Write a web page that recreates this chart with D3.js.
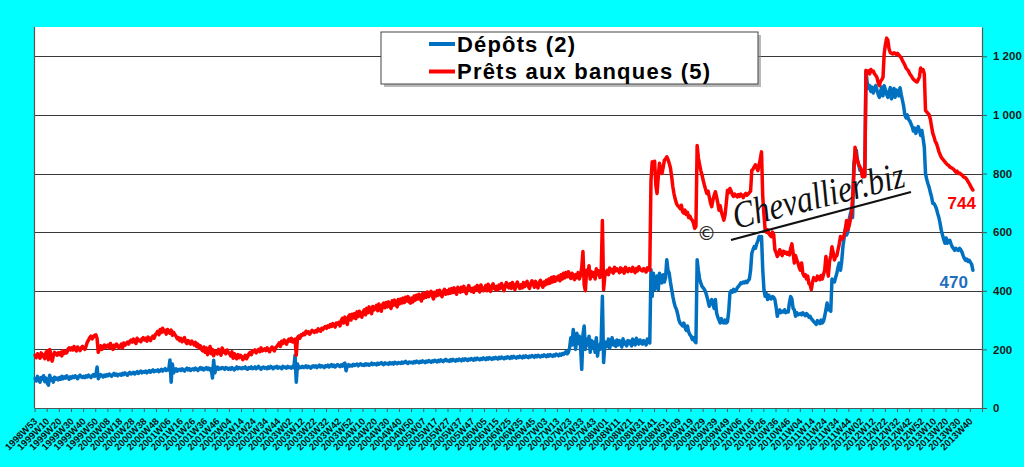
<!DOCTYPE html>
<html><head><meta charset="utf-8">
<script src="https://cdn.jsdelivr.net/npm/d3@7"></script>
<style>html,body{margin:0;padding:0;background:#00FFFF;overflow:hidden}</style>
</head><body><svg id="c" width="1024" height="467"></svg>
<script>
const tickLabels = ["1998W53","1999W10","1999W20","1999W30","1999W40","1999W50","2000W08","2000W18","2000W28","2000W38","2000W48","2001W06","2001W16","2001W26","2001W36","2001W46","2002W04","2002W14","2002W24","2002W34","2002W44","2003W02","2003W12","2003W22","2003W32","2003W42","2003W52","2004W10","2004W20","2004W30","2004W40","2004W50","2005W07","2005W17","2005W27","2005W37","2005W47","2006W05","2006W15","2006W25","2006W35","2006W45","2007W03","2007W13","2007W23","2007W33","2007W43","2008W01","2008W11","2008W21","2008W31","2008W41","2008W51","2009W09","2009W19","2009W29","2009W39","2009W49","2010W06","2010W16","2010W26","2010W36","2010W46","2011W04","2011W14","2011W24","2011W34","2011W44","2012W02","2012W12","2012W22","2012W32","2012W42","2012W52","2013W10","2013W20","2013W30","2013W40"];
const seriesNames = ["Dépôts (2)", "Prêts aux banques (5)"];
const seriesColors = ["#0070C0", "#FF0000"];
const yTicks = [0,200,400,600,800,1000,1200];
const nCategories = 780;

// Dépôts (2), weekly from 1998W53
const depots = [
100,92,108,95,88,104,98,110,90,102,
85,78,112,95,100,88,105,98,102,96,
104,98,108,100,106,102,110,104,98,106,
102,108,104,110,106,100,108,112,106,104,
108,104,110,106,112,108,104,110,114,108,
112,140,100,108,114,110,106,112,108,114,
110,116,112,108,114,118,112,116,110,114,
116,112,118,114,120,116,112,118,122,116,
118,122,116,120,124,118,122,126,120,124,
122,126,120,124,128,122,126,130,124,128,
126,130,124,128,132,126,130,134,128,132,
130,164,88,150,120,128,134,126,130,132,
128,134,130,126,132,136,130,134,128,132,
134,130,136,132,128,134,138,132,136,130,
134,138,132,136,130,134,102,163,120,138,
140,132,136,134,138,136,132,138,136,132,
136,132,138,134,130,136,140,134,138,136,
134,138,136,140,134,132,138,136,140,134,
136,140,134,138,142,136,132,138,140,136,
138,134,140,136,142,138,134,140,138,142,
136,140,138,134,142,138,140,136,142,138,
140,136,142,138,180,88,150,136,140,138,
142,138,140,144,138,142,140,136,142,144,
140,144,138,142,146,140,144,142,138,144,
142,146,140,144,148,142,146,140,144,148,
144,141,147,143,150,153,127,145,148,143,
146,143,149,145,147,150,144,148,151,146,
148,145,151,147,150,146,149,153,148,151,
150,147,153,149,152,155,150,148,154,151,
152,149,155,151,154,150,156,153,151,155,
154,152,157,153,156,159,154,152,157,155,
156,153,158,155,160,157,154,159,156,161,
158,155,160,157,162,159,156,161,158,163,
160,157,163,159,164,161,158,163,166,161,
162,159,165,161,166,163,160,165,162,167,
164,161,167,163,168,165,162,167,164,169,
166,163,169,165,170,167,164,169,166,171,
168,165,171,167,172,169,166,171,168,173,
170,167,173,169,174,171,168,173,170,175,
172,169,175,171,176,173,170,175,172,177,
174,171,177,173,178,175,172,177,174,179,
176,173,179,175,180,177,174,179,176,181,
178,175,181,177,182,179,176,181,178,184,
181,178,184,180,186,183,188,192,185,190,
205,240,215,268,230,200,255,220,245,210,
132,250,280,200,235,215,245,190,230,205,
225,190,240,177,215,200,230,381,155,215,
225,210,235,205,220,240,215,228,210,232,
215,230,222,208,236,218,225,212,230,220,
228,212,235,220,215,238,225,218,232,222,
218,230,225,215,235,228,222,472,381,460,
404,430,450,404,460,440,427,455,430,445,
506,470,460,430,405,381,360,345,336,320,
300,290,285,280,290,275,265,280,260,250,
245,234,240,228,223,506,470,440,427,415,
410,404,395,381,365,347,360,370,355,340,
370,325,310,300,290,305,292,290,300,290,
295,330,392,400,395,405,398,400,410,415,
420,427,425,430,427,432,428,435,440,470,
528,540,551,545,560,570,585,575,585,472,
404,381,390,370,385,375,372,380,378,370,
345,313,330,335,325,330,328,335,325,330,
328,360,380,372,340,335,313,325,318,320,
322,318,325,320,315,322,318,310,313,305,
300,295,290,285,298,292,288,300,290,296,
313,335,358,335,340,330,440,435,430,445,
460,480,495,470,500,550,580,610,590,600,
640,660,675,650,834,860,880,845,830,811,
811,800,789,795,1150,1110,1090,1100,1080,1095,
1075,1090,1100,1085,1070,1060,1080,1095,1065,1100,
1085,1070,1060,1080,1093,1055,1075,1090,1060,1085,
1080,1065,1093,1070,1050,1030,1000,990,1000,985,
980,970,960,945,955,937,950,960,947,930,
947,920,890,800,780,765,753,735,720,698,
698,690,680,664,650,630,606,590,575,562,
580,562,570,572,560,550,545,538,545,540,
538,545,540,532,520,510,504,508,500,504,
497,490,470];

// Prêts aux banques (5), weekly from 1998W53
const prets = [
180,172,185,178,170,188,176,182,168,190,
195,165,200,182,160,178,190,185,180,188,
182,190,178,195,186,192,188,200,205,198,
205,198,210,200,195,208,202,196,205,210,
206,200,212,225,232,240,245,236,242,248,
250,238,190,205,212,200,208,215,206,210,
215,205,220,210,200,214,208,218,212,205,
210,218,205,222,214,220,225,218,228,232,
225,235,228,220,238,230,232,226,236,240,
232,238,228,242,236,230,240,245,238,250,
255,262,250,268,258,272,260,265,252,268,
262,255,266,248,258,250,245,236,240,230,
238,226,232,240,225,220,230,222,218,228,
222,215,224,210,218,205,212,200,195,208,
190,205,182,198,210,185,200,178,195,190,
185,200,192,180,205,190,196,185,198,190,
186,178,192,170,185,175,168,182,172,180,
176,165,172,180,168,175,185,190,182,195,
192,198,188,196,200,192,205,195,198,202,
196,205,198,192,202,208,200,195,206,210,
215,222,210,228,220,232,226,218,230,235,
228,238,225,232,235,180,240,245,238,250,
248,255,250,262,256,260,252,258,265,262,
258,264,260,270,266,262,272,268,275,278,
272,280,276,285,278,288,282,276,290,286,
292,280,298,306,290,310,296,285,312,318,
300,320,308,322,305,328,312,330,318,310,
328,335,318,340,325,345,330,322,346,335,
340,350,332,355,340,330,352,358,342,360,
345,362,348,340,366,350,368,355,345,370,
355,372,358,375,360,378,365,380,362,358,
375,362,382,368,385,372,388,375,365,390,
375,392,378,396,380,390,398,382,372,395,
382,400,385,402,388,380,398,405,388,400,
390,405,392,408,394,410,398,388,412,400,
395,412,398,415,400,390,408,418,404,398,
408,395,412,402,418,404,396,420,410,400,
405,418,400,422,410,398,416,424,408,404,
415,402,420,408,425,412,400,418,428,414,
410,424,408,428,414,404,422,430,415,408,
420,410,428,414,424,432,416,408,424,434,
425,412,432,418,410,428,436,420,412,430,
420,436,424,440,426,445,430,448,432,446,
438,450,434,455,440,460,444,462,448,465,
450,442,460,448,438,455,445,462,440,452,
480,534,420,400,470,455,485,440,465,450,
462,440,475,455,468,445,460,640,404,450,
462,470,455,478,465,472,460,480,468,475,
470,462,478,466,474,460,480,472,465,476,
472,466,480,470,462,476,468,482,474,470,
468,476,470,464,478,472,470,777,840,828,
842,760,732,790,835,815,800,820,845,850,
857,848,835,820,790,755,730,712,698,690,
687,680,692,670,665,675,660,668,650,655,
645,641,630,613,620,896,855,830,811,795,
777,760,745,732,740,720,700,687,710,725,
738,720,700,675,690,668,655,641,660,700,
743,735,749,740,728,722,730,725,720,728,
722,730,725,718,728,732,726,730,735,740,
811,815,823,830,820,810,830,850,874,721,
660,608,600,608,595,590,585,600,592,540,
530,517,525,540,530,520,535,528,532,525,
530,522,545,560,530,495,520,505,495,480,
470,495,460,450,455,440,450,425,420,404,
430,445,440,435,450,445,438,452,440,455,
470,517,480,450,500,520,550,530,505,517,
520,540,560,585,575,580,590,610,640,608,
620,640,660,720,800,890,860,845,830,823,
815,789,795,790,1152,1145,1150,1140,1155,1148,
1150,1140,1135,1128,1110,1100,1115,1120,1128,1210,
1240,1262,1255,1225,1213,1210,1208,1212,1210,1206,
1210,1205,1200,1195,1185,1178,1170,1160,1155,1150,
1140,1135,1128,1122,1118,1115,1112,1120,1130,1160,
1150,1155,1140,1015,1010,1005,1000,985,960,937,
925,910,903,890,875,865,855,850,845,840,
835,830,828,822,820,818,815,810,805,808,
800,802,798,795,790,787,785,780,772,766,
758,750,744];

const W = 1024, H = 467;
const plot = {left: 34.5, right: 982, top: 27, bottom: 408};
const svg = d3.select("#c");
const x = d3.scaleLinear().domain([0, nCategories]).range([plot.left, plot.right]);
const y = d3.scaleLinear().domain([0, 1300]).range([plot.bottom, plot.top]);
const frLocale = d3.formatLocale({decimal: ",", thousands: "\u00a0", grouping: [3], currency: ["", " €"]});
const fmt = frLocale.format(",d");
const FONT = "'Liberation Sans', Arial, sans-serif";

svg.append("rect").attr("width", W).attr("height", H).attr("fill", "#00FFFF");
svg.append("rect").attr("x", plot.left).attr("y", plot.top)
  .attr("width", plot.right - plot.left).attr("height", plot.bottom - plot.top).attr("fill", "#fff");

// gridlines
svg.append("g").selectAll("line").data(yTicks.filter(v => v > 0)).join("line")
  .attr("x1", plot.left).attr("x2", plot.right)
  .attr("y1", d => Math.round(y(d)) + 0.5).attr("y2", d => Math.round(y(d)) + 0.5)
  .attr("stroke", "#3a3a3a").attr("stroke-width", 1);

// left border line
svg.append("line").attr("x1", plot.left).attr("x2", plot.left).attr("y1", plot.top).attr("y2", plot.bottom)
  .attr("stroke", "#555").attr("stroke-width", 1.2);

// right y axis
const yAxis = svg.append("g").attr("transform", `translate(${plot.right},0)`)
  .call(d3.axisRight(y).tickValues(yTicks).tickFormat(fmt).tickSize(5).tickSizeOuter(0).tickPadding(6));
yAxis.select(".domain").attr("stroke", "#555").attr("stroke-width", 1.2);
yAxis.selectAll(".tick line").attr("stroke", "#555");
yAxis.selectAll("text").attr("font-family", FONT).attr("font-size", 11.5).attr("font-weight", "bold").attr("fill", "#1a1a1a");

// bottom x axis
const xAxis = svg.append("g").attr("transform", `translate(0,${plot.bottom})`)
  .call(d3.axisBottom(x).tickValues(d3.range(0, nCategories + 1, 10))
    .tickFormat((d, i) => tickLabels[i] || "").tickSize(4).tickSizeOuter(0));
xAxis.select(".domain").attr("stroke", "#555").attr("stroke-width", 1.2);
xAxis.selectAll(".tick line").attr("stroke", "#555");
xAxis.selectAll("text").attr("font-family", FONT).attr("font-size", 9.6).attr("font-weight", "bold").attr("fill", "#111")
  .attr("x", 0).attr("y", 0).attr("dy", 0).attr("text-anchor", "end")
  .attr("transform", "translate(3,14) rotate(-45)");

// lines
const line = d3.line().x((d, i) => x(i + 0.5)).y(d => y(d));
[depots, prets].forEach((s, si) => {
  svg.append("path").datum(s).attr("d", line).attr("fill", "none")
    .attr("stroke", seriesColors[si]).attr("stroke-width", 3.5)
    .attr("stroke-linejoin", "round").attr("stroke-linecap", "round");
});

// end labels
const lastI = prets.length - 1;
svg.append("text").attr("x", x(lastI + 0.5) + 3).attr("y", y(prets[lastI]) + 19)
  .attr("text-anchor", "end").attr("font-family", FONT).attr("font-size", 17).attr("font-weight", "bold")
  .attr("fill", seriesColors[1]).text(prets[lastI]);
svg.append("text").attr("x", x(lastI + 0.5) - 5).attr("y", y(depots[lastI]) + 18)
  .attr("text-anchor", "end").attr("font-family", FONT).attr("font-size", 17).attr("font-weight", "bold")
  .attr("fill", "#1F6FC0").text(depots[lastI]);

// watermark
const wm = svg.append("g");
wm.append("text").attr("x", 697).attr("y", 240).attr("font-family", "'DejaVu Sans', sans-serif")
  .attr("font-size", 19).attr("fill", "#222").text("©");
wm.append("text").attr("transform", "translate(736,229) rotate(-14)")
  .attr("font-family", "'Liberation Serif', 'DejaVu Serif', serif").attr("font-style", "italic")
  .attr("font-size", 38).attr("fill", "#111").attr("textLength", 176).attr("lengthAdjust", "spacingAndGlyphs")
  .text("Chevallier.biz");
wm.append("line").attr("x1", 731).attr("y1", 240).attr("x2", 911).attr("y2", 192)
  .attr("stroke", "#111").attr("stroke-width", 2.2);

// legend
const lg = {x: 381, y: 32, w: 377, h: 52};
svg.append("rect").attr("x", lg.x + 3).attr("y", lg.y + 3).attr("width", lg.w).attr("height", lg.h).attr("fill", "#8a8a8a").attr("opacity", 0.6);
svg.append("rect").attr("x", lg.x).attr("y", lg.y).attr("width", lg.w).attr("height", lg.h)
  .attr("fill", "#fff").attr("stroke", "#444").attr("stroke-width", 1);
const legendRows = [{y: 44, base: 52, len: 118}, {y: 71.5, base: 78.5, len: 253}];
seriesNames.forEach((name, i) => {
  svg.append("line").attr("x1", 429).attr("x2", 455).attr("y1", legendRows[i].y).attr("y2", legendRows[i].y)
    .attr("stroke", seriesColors[i]).attr("stroke-width", 4);
  svg.append("text").attr("x", 457).attr("y", legendRows[i].base)
    .attr("font-family", FONT).attr("font-size", 22).attr("font-weight", "bold").attr("fill", "#000")
    .attr("textLength", legendRows[i].len).attr("lengthAdjust", "spacing").text(name);
});
</script>
</body></html>
